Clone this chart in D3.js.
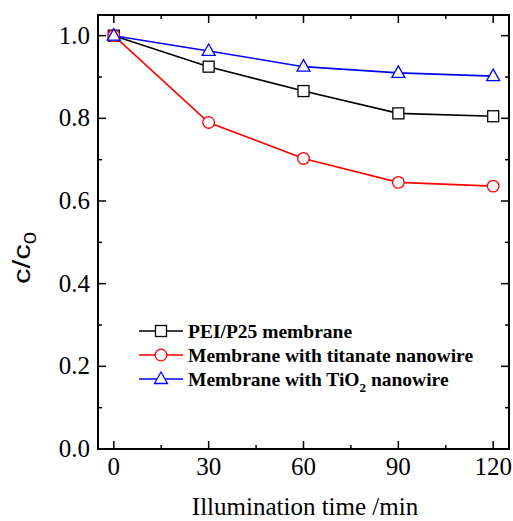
<!DOCTYPE html>
<html>
<head>
<meta charset="utf-8">
<script src="https://cdn.jsdelivr.net/npm/d3@7"></script>
<style>
  body { margin: 0; background: #fff; }
  svg { display: block; }
</style>
</head>
<body>
<svg width="513" height="521"></svg>
<script>
var times = [0, 30, 60, 90, 120];
var p25 = [1.0, 0.925, 0.866, 0.812, 0.805];
var titanate = [1.0, 0.790, 0.703, 0.645, 0.636];
var tio2 = [1.0, 0.963, 0.925, 0.910, 0.902];
var xTicks = [0, 30, 60, 90, 120];
var yTicks = [0.0, 0.2, 0.4, 0.6, 0.8, 1.0];

var series = [
  { name: "PEI/P25 membrane", values: p25, color: "#000000", symbol: "square" },
  { name: "Membrane with titanate nanowire", values: titanate, color: "#ff0000", symbol: "circle" },
  { name: "Membrane with TiO2 nanowire", values: tio2, color: "#0000ff", symbol: "triangle" }
];

var svg = d3.select("svg");
var pLeft = 98, pRight = 509, pTop = 15, pBottom = 449;

var x = d3.scaleLinear().domain([-5, 125]).range([pLeft, pRight]);
var y = d3.scaleLinear().domain([0, 1.05]).range([pBottom, pTop]);

var serif = "'Liberation Serif', 'Times New Roman', serif";

// frame
svg.append("rect")
  .attr("x", pLeft).attr("y", pTop)
  .attr("width", pRight - pLeft).attr("height", pBottom - pTop)
  .attr("fill", "none").attr("stroke", "#000").attr("stroke-width", 2);

// ticks (inward, mirrored)
var ticks = svg.append("g").attr("stroke", "#000").attr("stroke-width", 1.5);
d3.range(0, 121, 15).forEach(function(t) {
  var len = t % 30 === 0 ? 8 : 4;
  ticks.append("line").attr("x1", x(t)).attr("x2", x(t)).attr("y1", pBottom).attr("y2", pBottom - len);
  ticks.append("line").attr("x1", x(t)).attr("x2", x(t)).attr("y1", pTop).attr("y2", pTop + len);
});
d3.range(0, 11).forEach(function(i) {
  var v = i / 10;
  var len = i % 2 === 0 ? 8 : 4;
  ticks.append("line").attr("y1", y(v)).attr("y2", y(v)).attr("x1", pLeft).attr("x2", pLeft + len);
  ticks.append("line").attr("y1", y(v)).attr("y2", y(v)).attr("x1", pRight).attr("x2", pRight - len);
});

// tick labels
svg.append("g").selectAll("text").data(xTicks).enter().append("text")
  .attr("x", d => x(d)).attr("y", pBottom + 26)
  .attr("text-anchor", "middle")
  .attr("font-family", serif).attr("font-size", 25)
  .text(d => d);

svg.append("g").selectAll("text").data(yTicks).enter().append("text")
  .attr("x", pLeft - 8).attr("y", d => y(d) + 8)
  .attr("text-anchor", "end")
  .attr("font-family", serif).attr("font-size", 25)
  .text(d => d.toFixed(1));

// axis titles
svg.append("text")
  .attr("x", 305).attr("y", 515)
  .attr("text-anchor", "middle")
  .attr("font-family", serif).attr("font-size", 25)
  .text("Illumination time /min");

var yl = svg.append("text")
  .attr("transform", "translate(30,258) rotate(-90) scale(1.3,1)")
  .attr("text-anchor", "middle")
  .attr("font-family", "'Liberation Sans', Arial, sans-serif").attr("font-size", 24);
yl.append("tspan").text("c/c");
yl.append("tspan").attr("font-size", 17).attr("dy", 6).text("0");

function marker(g, s, cx, cy) {
  if (s.symbol === "square") {
    g.append("rect").attr("x", cx - 5.5).attr("y", cy - 5.5).attr("width", 11).attr("height", 11)
      .attr("fill", "#fff").attr("stroke", s.color).attr("stroke-width", 1.3);
  } else if (s.symbol === "circle") {
    g.append("circle").attr("cx", cx).attr("cy", cy).attr("r", 5.8)
      .attr("fill", "#fff").attr("stroke", s.color).attr("stroke-width", 1.3);
  } else {
    g.append("path").attr("d", "M" + cx + "," + (cy - 7) + "L" + (cx + 6.5) + "," + (cy + 4.5) + "L" + (cx - 6.5) + "," + (cy + 4.5) + "Z")
      .attr("fill", "#fff").attr("stroke", s.color).attr("stroke-width", 1.3);
  }
}

var line = d3.line().x(d => x(d[0])).y(d => y(d[1]));

series.forEach(function(s) {
  var pts = times.map((t, i) => [t, s.values[i]]);
  svg.append("path").datum(pts)
    .attr("d", line)
    .attr("fill", "none").attr("stroke", s.color).attr("stroke-width", 1.6);
});
series.forEach(function(s) {
  var g = svg.append("g");
  times.forEach((t, i) => marker(g, s, x(t), y(s.values[i])));
});

// legend
var legY = [331, 355, 379];
series.forEach(function(s, i) {
  var g = svg.append("g");
  g.append("line").attr("x1", 139).attr("x2", 183).attr("y1", legY[i]).attr("y2", legY[i])
    .attr("stroke", s.color).attr("stroke-width", 1.6);
  marker(g, s, 161, legY[i]);
  var t = g.append("text").attr("x", 188).attr("y", legY[i] + 7)
    .attr("font-family", serif).attr("font-weight", "bold").attr("font-size", 19.5);
  if (s.symbol === "triangle") {
    t.append("tspan").text("Membrane with TiO");
    t.append("tspan").attr("font-size", 13).attr("dy", 6).text("2");
    t.append("tspan").attr("dy", -6).text(" nanowire");
  } else {
    t.text(s.name);
  }
});
</script>
</body>
</html>
